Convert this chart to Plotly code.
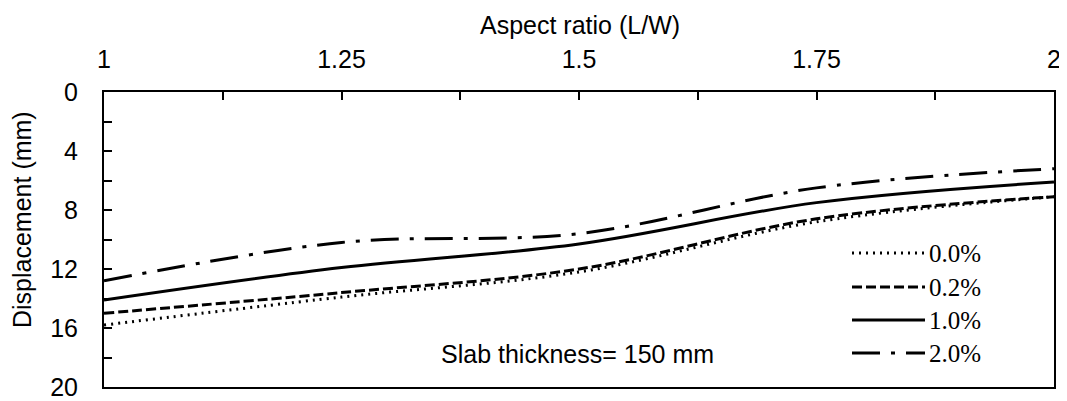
import plotly.graph_objects as go

aspect_ratio = [1.0, 1.25, 1.5, 1.75, 2.0]
series_names = ["0.0%", "0.2%", "1.0%", "2.0%"]
disp_00 = [15.8, 13.9, 12.2, 8.8, 7.1]
disp_02 = [15.0, 13.6, 12.0, 8.6, 7.1]
disp_10 = [14.1, 11.9, 10.3, 7.5, 6.1]
disp_20 = [12.8, 10.2, 9.6, 6.5, 5.2]
series_values = [disp_00, disp_02, disp_10, disp_20]
dashes = ["2px,5px", "10px,4px", "solid", "28px,11px,4px,11px"]
y_ticks = [0, 4, 8, 12, 16, 20]
x_ticks = [1, 1.25, 1.5, 1.75, 2]

# page body has an 8px margin; compensate so the plot frame lands where the reference's does
OFF = 8
W, H = 1067 - OFF, 401 - OFF
L, R, T, B = 104 - OFF, 13, 92 - OFF, 14
PW, PH = W - L - R, H - T - B
FX0, FY1 = L + OFF, T + OFF + PH  # frame left / bottom in page pixels


def px(xp):
    return (xp - FX0) / PW


def py(yp):
    return (FY1 - yp) / PH


fig = go.Figure()
for name, vals, d in zip(series_names, series_values, dashes):
    fig.add_trace(go.Scatter(
        x=aspect_ratio, y=vals, mode="lines", name=name,
        line=dict(color="black", width=3, dash=d, shape="spline", smoothing=1.0),
        showlegend=False,
    ))

# manual legend (long line samples like the original)
leg_x0, leg_x1 = 852, 925
leg_rows = [253, 287, 320, 353]
for name, d, yy in zip(series_names, dashes, leg_rows):
    fig.add_shape(type="line", xref="paper", yref="paper",
                  x0=px(leg_x0), x1=px(leg_x1), y0=py(yy), y1=py(yy),
                  line=dict(color="black", width=3, dash=d))
    fig.add_annotation(xref="paper", yref="paper",
                       x=px(leg_x1 + 2), y=py(yy),
                       text=name, showarrow=False, xanchor="left", yanchor="middle",
                       font=dict(family="Liberation Serif", size=25, color="black"))

fig.add_annotation(xref="paper", yref="paper", x=px(577), y=py(354),
                   text="Slab thickness= 150 mm", showarrow=False,
                   xanchor="center", yanchor="middle",
                   font=dict(family="Liberation Sans", size=25, color="black"))

# axis titles
fig.add_annotation(xref="paper", yref="paper", x=px(580), y=py(25),
                   text="Aspect ratio (L/W)", showarrow=False,
                   xanchor="center", yanchor="middle",
                   font=dict(family="Liberation Sans", size=25, color="black"))
fig.add_annotation(xref="paper", yref="paper", x=px(22), y=py(220),
                   text="Displacement (mm)", showarrow=False, textangle=-90,
                   xanchor="center", yanchor="middle",
                   font=dict(family="Liberation Sans", size=25, color="black"))

fig.update_layout(
    width=W, height=H,
    margin=dict(l=L, r=R, t=T, b=B),
    plot_bgcolor="white", paper_bgcolor="white",
    font=dict(family="Liberation Sans", size=25, color="black"),
)
fig.update_xaxes(
    side="top", range=[1, 2], tickvals=x_ticks, automargin=False,
    ticks="inside", ticklen=8, tickwidth=2, tickcolor="black",
    minor=dict(dtick=0.125, ticks="inside", ticklen=8, tickwidth=2, tickcolor="black"),
    showline=True, linewidth=2, linecolor="black", mirror=True,
    showgrid=False, zeroline=False, ticklabelstandoff=12,
    tickfont=dict(size=25),
)
fig.update_yaxes(
    range=[20, 0], tickvals=y_ticks, automargin=False,
    ticks="inside", ticklen=8, tickwidth=2, tickcolor="black",
    minor=dict(dtick=2, ticks="inside", ticklen=8, tickwidth=2, tickcolor="black"),
    showline=True, linewidth=2, linecolor="black", mirror=True,
    showgrid=False, zeroline=False, ticklabelstandoff=19,
    tickfont=dict(size=25),
)
fig.write_html("out.html")
